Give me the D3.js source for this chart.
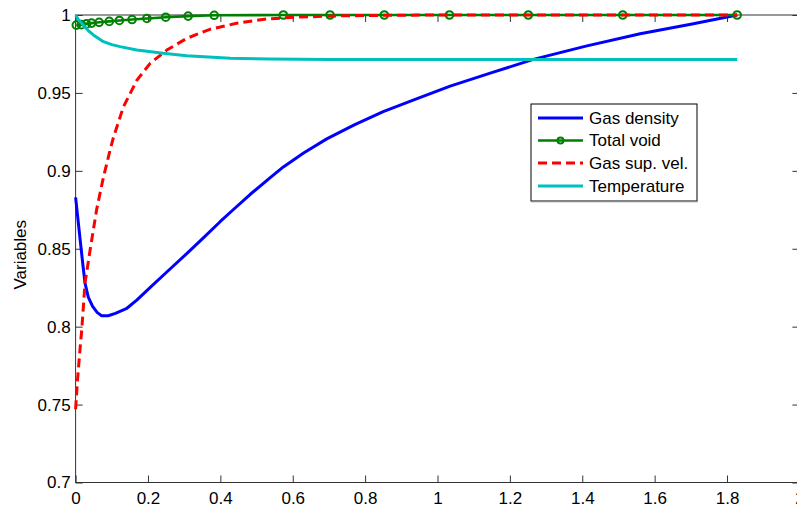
<!DOCTYPE html>
<html>
<head>
<meta charset="utf-8">
<script src="https://cdn.jsdelivr.net/npm/d3@7"></script>
<style>
  html, body { margin: 0; padding: 0; background: #fff; }
  svg { display: block; }
  text { font-family: "Liberation Sans", Arial, sans-serif; fill: #000; }
</style>
</head>
<body>
<svg id="chart" width="797" height="507"></svg>
<script>
// Gas density profile
const densityX = [0, 0.006, 0.012, 0.02, 0.026, 0.035, 0.047, 0.06, 0.072, 0.09, 0.11, 0.14, 0.169, 0.21, 0.261, 0.31, 0.353, 0.40, 0.44, 0.482, 0.537, 0.574, 0.63, 0.694, 0.77, 0.85, 0.94, 1.035, 1.15, 1.265, 1.41, 1.56, 1.70, 1.828];
const densityY = [0.883, 0.870, 0.857, 0.840, 0.828, 0.819, 0.813, 0.809, 0.807, 0.807, 0.8085, 0.8115, 0.817, 0.826, 0.837, 0.8475, 0.857, 0.8675, 0.876, 0.8848, 0.8955, 0.9025, 0.9115, 0.9205, 0.9295, 0.938, 0.946, 0.9544, 0.963, 0.9715, 0.980, 0.988, 0.994, 1.0];

// Total void fraction (marked points)
const voidX = [0.002, 0.016, 0.03, 0.044, 0.065, 0.093, 0.121, 0.156, 0.197, 0.249, 0.311, 0.383, 0.574, 0.703, 0.853, 1.033, 1.251, 1.512, 1.828];
const voidY = [0.9935, 0.9938, 0.9943, 0.9948, 0.9953, 0.9959, 0.9965, 0.9971, 0.9978, 0.9986, 0.9993, 0.9998, 1, 1, 1, 1, 1, 1, 1];

// Gas superficial velocity
const velX = [0, 0.005, 0.012, 0.017, 0.026, 0.04, 0.058, 0.077, 0.095, 0.104, 0.132, 0.169, 0.206, 0.252, 0.307, 0.371, 0.445, 0.528, 0.62, 0.72, 0.85, 1.0, 1.2, 1.5, 1.828];
const velY = [0.747, 0.765, 0.785, 0.798, 0.828, 0.849, 0.875, 0.896, 0.913, 0.921, 0.941, 0.958, 0.969, 0.9775, 0.985, 0.9908, 0.9947, 0.9975, 0.9987, 0.9994, 0.9998, 1, 1, 1, 1];

// Temperature
const tempX = [0, 0.008, 0.021, 0.035, 0.049, 0.077, 0.1, 0.123, 0.169, 0.242, 0.307, 0.427, 0.537, 0.7, 1.0, 1.4, 1.828];
const tempY = [1.0, 0.997, 0.9936, 0.990, 0.9872, 0.9829, 0.981, 0.9797, 0.9775, 0.9754, 0.9739, 0.9722, 0.9717, 0.9715, 0.9715, 0.9715, 0.9715];

const xTicks = [0, 0.2, 0.4, 0.6, 0.8, 1, 1.2, 1.4, 1.6, 1.8, 2];
const yTicks = [0.7, 0.75, 0.8, 0.85, 0.9, 0.95, 1];
const legendLabels = ["Gas density", "Total void", "Gas sup. vel.", "Temperature"];
const yLabel = "Variables";

const svg = d3.select("#chart");
const plotLeft = 75.6, plotRight = 799.4, plotTop = 15, plotBottom = 482.5;

const x = d3.scaleLinear().domain([0, 2]).range([plotLeft, plotRight]);
const y = d3.scaleLinear().domain([0.7, 1]).range([plotBottom, plotTop]);

const tickLen = 7;
const axisColor = "#333";
const fontSize = "17px";

// Axes box with inward ticks on all four sides
const axes = svg.append("g");
axes.append("rect")
  .attr("x", plotLeft).attr("y", plotTop)
  .attr("width", plotRight - plotLeft).attr("height", plotBottom - plotTop)
  .attr("fill", "none").attr("stroke", axisColor).attr("stroke-width", 1);

const bottomAxis = d3.axisBottom(x).tickValues(xTicks).tickSize(-tickLen).tickPadding(9)
  .tickFormat(d => d3.format("")(+d.toFixed(1)));
const topAxis = d3.axisTop(x).tickValues(xTicks).tickSize(-tickLen).tickFormat("");
const leftAxis = d3.axisLeft(y).tickValues(yTicks).tickSize(-tickLen).tickPadding(5)
  .tickFormat(d => d3.format("")(+d.toFixed(2)));
const rightAxis = d3.axisRight(y).tickValues(yTicks).tickSize(-tickLen).tickFormat("");

function styleAxis(g) {
  g.select(".domain").remove();
  g.selectAll(".tick line").attr("stroke", axisColor);
  g.selectAll(".tick text")
    .style("font-family", "'Liberation Sans', Arial, sans-serif")
    .style("font-size", fontSize).attr("fill", "#000");
}

axes.append("g").attr("transform", `translate(0,${plotBottom})`).call(bottomAxis).call(styleAxis);
axes.append("g").attr("transform", `translate(0,${plotTop})`).call(topAxis).call(styleAxis);
axes.append("g").attr("transform", `translate(${plotLeft},0)`).call(leftAxis).call(styleAxis);
axes.append("g").attr("transform", `translate(${plotRight},0)`).call(rightAxis).call(styleAxis);

svg.append("text")
  .attr("transform", `translate(26,${(plotTop + plotBottom) / 2 + 6}) rotate(-90)`)
  .attr("text-anchor", "middle")
  .style("font-size", fontSize)
  .text(yLabel);

// Series
const line = d3.line().x(d => x(d[0])).y(d => y(d[1]));
const zip = (xs, ys) => xs.map((v, i) => [v, ys[i]]);

const series = [
  { name: legendLabels[0], data: zip(densityX, densityY), color: "#0000ff", width: 3, dash: null, marker: false },
  { name: legendLabels[1], data: zip(voidX, voidY), color: "#008000", width: 2.6, dash: null, marker: true },
  { name: legendLabels[2], data: zip(velX, velY), color: "#ff0000", width: 3, dash: "9,5", marker: false },
  { name: legendLabels[3], data: zip(tempX, tempY), color: "#00bfbf", width: 3, dash: null, marker: false }
];

const plot = svg.append("g");
series.forEach(s => {
  plot.append("path")
    .datum(s.data)
    .attr("d", line)
    .attr("fill", "none")
    .attr("stroke", s.color)
    .attr("stroke-width", s.width)
    .attr("stroke-dasharray", s.dash)
    .attr("stroke-linejoin", "round");
  if (s.marker) {
    plot.selectAll(null).data(s.data).enter().append("circle")
      .attr("cx", d => x(d[0])).attr("cy", d => y(d[1]))
      .attr("r", 3.8)
      .attr("fill", "none")
      .attr("stroke", s.color)
      .attr("stroke-width", 2);
  }
});

// Legend
const lg = svg.append("g");
const lgX = 531, lgY = 104, lgW = 166, lgH = 97;
lg.append("rect").attr("x", lgX).attr("y", lgY).attr("width", lgW).attr("height", lgH)
  .attr("fill", "#fff").attr("stroke", "#000").attr("stroke-width", 1);
lg.append("line").attr("x1", lgX).attr("x2", lgX + lgW + 0.5).attr("y1", lgY + lgH + 0.5).attr("y2", lgY + lgH + 0.5)
  .attr("stroke", "#888").attr("stroke-width", 1.5);
const rowY = [118, 140.5, 163, 186];
series.forEach((s, i) => {
  const yy = rowY[i];
  lg.append("line")
    .attr("x1", 538).attr("x2", 583).attr("y1", yy).attr("y2", yy)
    .attr("stroke", s.color).attr("stroke-width", s.width)
    .attr("stroke-dasharray", s.dash);
  if (s.marker) {
    lg.append("circle").attr("cx", 560.5).attr("cy", yy).attr("r", 3)
      .attr("fill", "none").attr("stroke", s.color).attr("stroke-width", 2);
  }
  lg.append("text").attr("x", 589).attr("y", yy).attr("dy", "0.35em")
    .style("font-size", fontSize).text(s.name);
});
</script>
</body>
</html>
